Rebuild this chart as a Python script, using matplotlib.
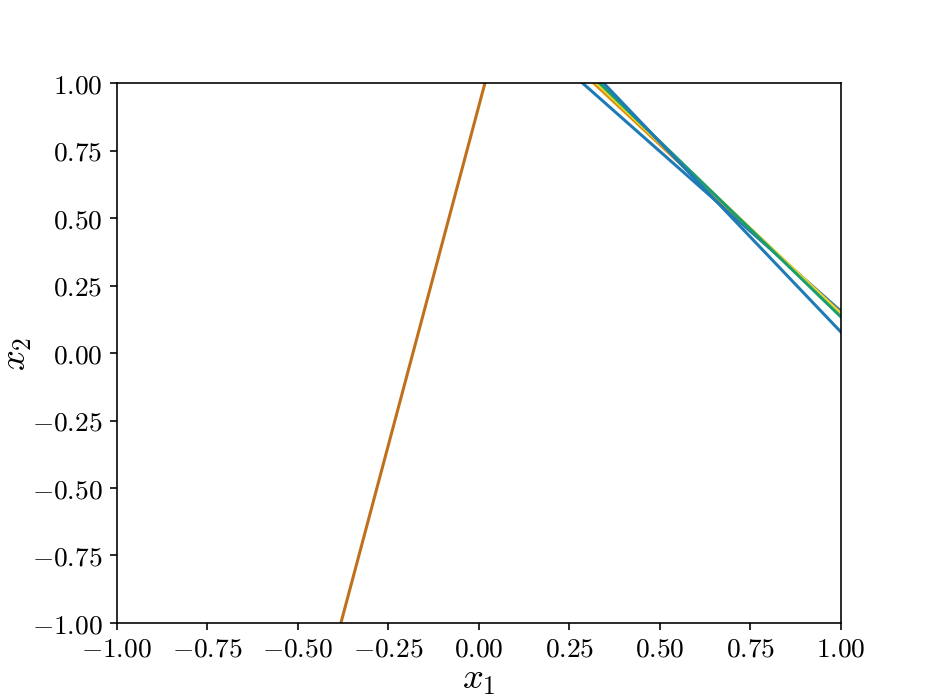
import numpy as np
import matplotlib
matplotlib.use("Agg")
import matplotlib.pyplot as plt

plt.rcParams['font.family'] = 'serif'
plt.rcParams['font.serif'] = ['cmr10']
plt.rcParams['mathtext.fontset'] = 'cm'
plt.rcParams['axes.formatter.use_mathtext'] = True
plt.rcParams['axes.unicode_minus'] = True

# decision boundaries: x2 = b + m * x1
intercepts = [0.9165, 1.340, 1.397, 1.414, 1.434, 1.486]
slopes = [5.03, -1.185, -1.249, -1.269, -1.300, -1.408]
colors = ['#c0701c', '#1f7bb6', '#de8f05', '#e6d83a', '#1a9e6e', '#1f7bb6']

ticks = [-1.0, -0.75, -0.5, -0.25, 0.0, 0.25, 0.5, 0.75, 1.0]

fig, ax = plt.subplots(figsize=(6.4, 4.8), dpi=146)
x1 = np.linspace(-1, 1, 500)
for b, m, c in zip(intercepts, slopes, colors):
    ax.plot(x1, b + m * x1, color=c, lw=1.5)

ax.set_xlim(-1, 1)
ax.set_ylim(-1, 1)
ax.set_xticks(ticks)
ax.set_yticks(ticks)
ax.tick_params(labelsize=13.5)
ax.set_xlabel('$x_1$', fontsize=18, labelpad=2)
ax.set_ylabel('$x_2$', fontsize=18, labelpad=-1)
fig.savefig('out.png', dpi=146)
